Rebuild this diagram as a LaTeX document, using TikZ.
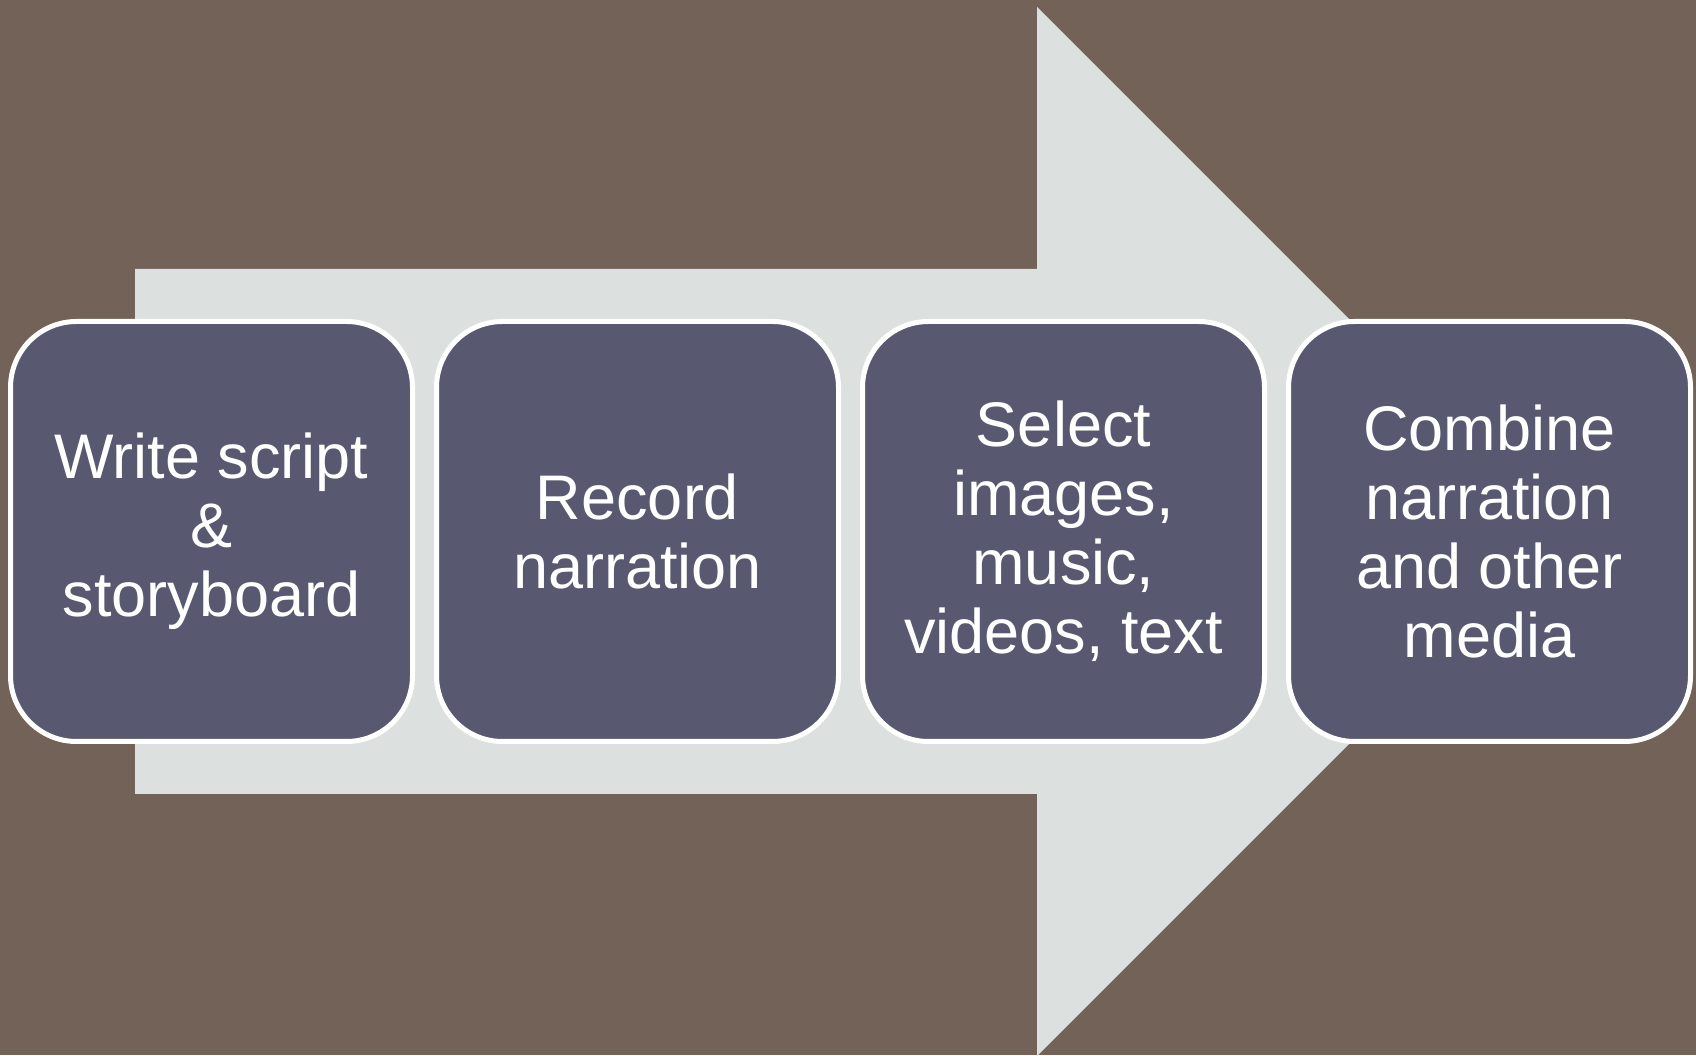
\documentclass[tikz,border=0pt]{standalone}
\usepackage{fontspec}
\setmainfont{Liberation Sans}
\usetikzlibrary{positioning}
\definecolor{bgbrown}{RGB}{115,98,87}
\definecolor{arrowgray}{RGB}{220,224,222}
\definecolor{boxslate}{RGB}{88,89,113}

\begin{document}
\begin{tikzpicture}[x=1pt,y=1pt,node distance=19pt,
  stepbox/.style={draw=white,line width=5pt,fill=boxslate,rounded corners=66pt,
    minimum width=402pt,minimum height=420pt,align=center,text=white,
    font=\fontsize{63}{69}\selectfont}]
\fill[bgbrown] (0,0) rectangle (1696,1055);
\useasboundingbox (0,0) rectangle (1696,1055);
\fill[arrowgray] (135,261) -- (135,786) -- (1037,786) -- (1037,1048)
  -- (1561.5,523.5) -- (1037,-1) -- (1037,261) -- cycle;
\node[stepbox] (script) at (211.5,523.5) {Write script\\\&\\storyboard};
\node[stepbox,right=of script] (record) {Record\\narration};
\node[stepbox,right=of record] (select) {Select\\images,\\music,\\videos, text};
\node[stepbox,right=of select] (combine) {Combine\\narration\\and other\\media};
\end{tikzpicture}
\end{document}
